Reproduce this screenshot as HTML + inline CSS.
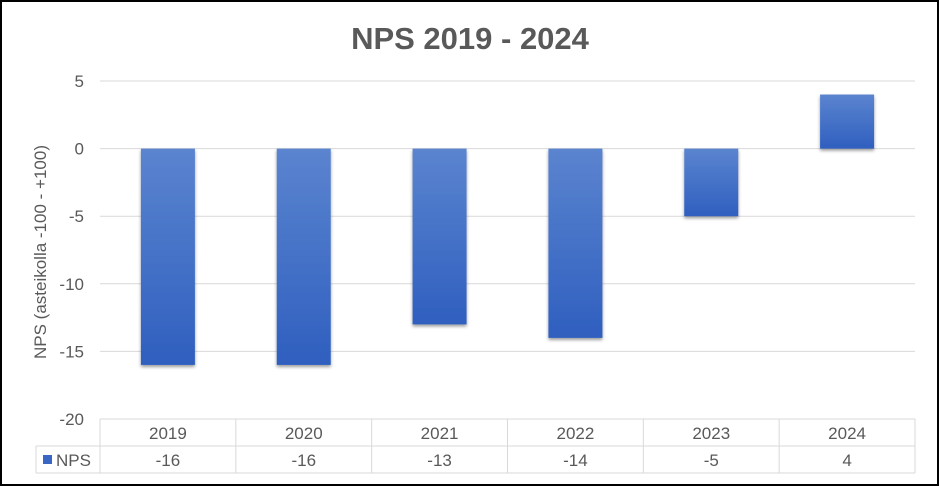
<!DOCTYPE html>
<html><head><meta charset="utf-8"><style>
body{margin:0;background:#fff;}
#wrap{position:relative;width:939px;height:486px;box-sizing:border-box;border:2px solid #000;background:#fff;font-family:"Liberation Sans",sans-serif;overflow:hidden}
</style></head><body>
<div id="wrap">
<svg id="chart" width="939" height="486" style="position:absolute;left:-2px;top:-2px">
<defs>
<linearGradient id="g" x1="0" y1="0" x2="0" y2="1"><stop offset="0" stop-color="#5b84cf"/><stop offset="1" stop-color="#2f5fbf"/></linearGradient>
<filter id="sh" x="-20%" y="-20%" width="140%" height="140%"><feDropShadow dx="0" dy="2" stdDeviation="1.5" flood-color="#000" flood-opacity="0.4"/></filter>
</defs>
</svg>
</div>
<script>
const categories=["2019","2020","2021","2022","2023","2024"];
const values=[-16,-16,-13,-14,-5,4];
const ticks=[5,0,-5,-10,-15,-20];
const svg=document.getElementById('chart');
const NS='http://www.w3.org/2000/svg';
const x0=100,x1=915,yMin=-20,yMax=5,yTop=81,yBot=419;
const bw=(x1-x0)/categories.length;
function y(v){return yBot-(v-yMin)/(yMax-yMin)*(yBot-yTop);}
function xc(i){return x0+bw*(i+0.5);}
function mk(t,a,txt){const e=document.createElementNS(NS,t);for(const k in a)e.setAttribute(k,a[k]);if(txt!==undefined)e.textContent=txt;svg.appendChild(e);return e;}
let t=mk('text',{x:470,y:49,'text-anchor':'middle','font-size':'31','font-weight':'bold',fill:'#595959'},'NPS 2019 - 2024');


t=mk('text',{x:0,y:0,transform:'translate(46,252) rotate(-90)','text-anchor':'middle','font-size':'17',fill:'#595959'},'NPS (asteikolla -100 - +100)');


ticks.forEach(v=>{
  if(v>yMin){const l=mk('line',{x1:x0,x2:x1,y1:y(v),y2:y(v),stroke:'#d9d9d9','stroke-width':1});
  
  }
  const tx=mk('text',{x:84,y:y(v)+6,'text-anchor':'end','font-size':'17',fill:'#595959'},String(v));
  
  
});
values.forEach((v,i)=>{
  const top=Math.min(y(v),y(0)),h=Math.abs(y(v)-y(0));
  const r=mk('rect',{x:xc(i)-27,y:top,width:54,height:h,fill:'url(#g)',filter:'url(#sh)'});
  
  
});
const rT=419,rM=446,rB=473,lx=36;
[[x0,rT,x1,rT],[lx,rM,x1,rM],[lx,rB,x1,rB],[lx,rM,lx,rB]].forEach(a=>{
  const l=mk('line',{x1:a[0],y1:a[1],x2:a[2],y2:a[3],stroke:'#d9d9d9','stroke-width':1});
  
  
});
for(let i=0;i<=categories.length;i++){
  const l=mk('line',{x1:x0+bw*i,x2:x0+bw*i,y1:rT,y2:rB,stroke:'#d9d9d9','stroke-width':1});
  
  
}
categories.forEach((c,i)=>{
  const a=mk('text',{x:xc(i),y:rT+20,'text-anchor':'middle','font-size':'17',fill:'#595959'},c);
  
  
  const b=mk('text',{x:xc(i),y:rM+20,'text-anchor':'middle','font-size':'17',fill:'#595959'},String(values[i]));
  
  
});
const sw=mk('rect',{x:43,y:rM+9,width:9,height:9,fill:'#3a66c4'});


t=mk('text',{x:56,y:rM+20,'font-size':'17',fill:'#595959'},'NPS');


</script>
</body></html>
